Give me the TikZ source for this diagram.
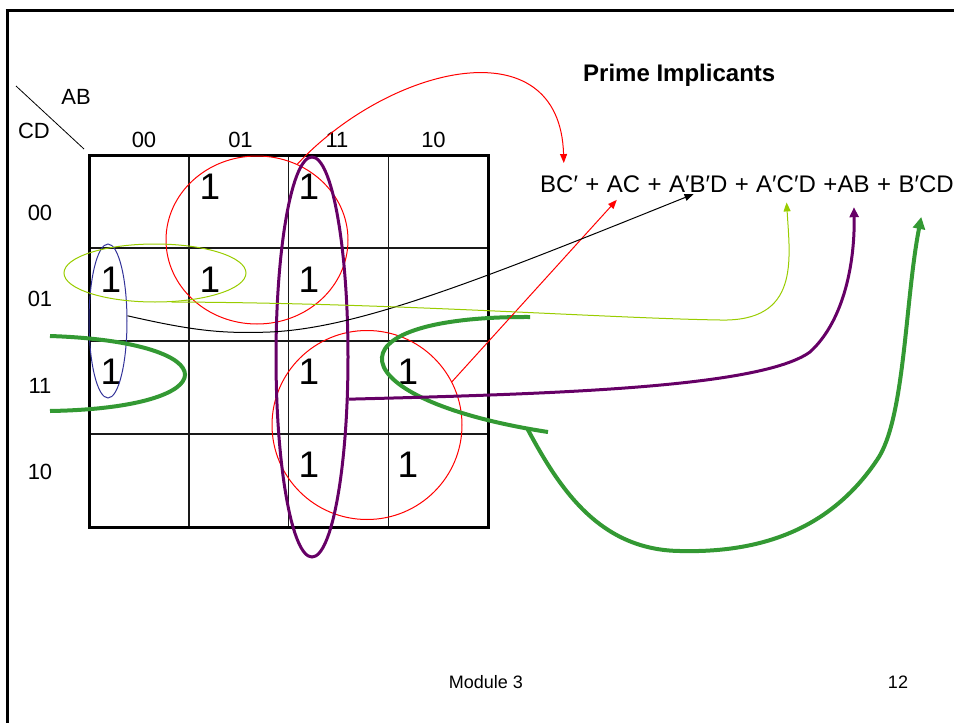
\documentclass[tikz,border=0pt]{standalone}
\usepackage{fontspec}
\setmainfont{Liberation Sans}
\usepackage{tikz}
\usetikzlibrary{shapes.geometric, arrows.meta, positioning}
\definecolor{rojo}{RGB}{255,0,0}
\definecolor{morado}{RGB}{102,0,102}
\definecolor{lima}{RGB}{153,204,0}
\definecolor{azul}{RGB}{51,51,153}
\definecolor{verde}{RGB}{51,153,51}
\tikzset{
  uno/.style={font=\fontsize{37}{40}\selectfont, inner sep=0pt},
  etiq/.style={font=\fontsize{22}{26}\selectfont, inner sep=0pt},
  termino/.style={font=\fontsize{24}{28}\selectfont, inner sep=0pt},
  pie/.style={font=\fontsize{18}{22}\selectfont, inner sep=0pt},
  linea/.style={line width=1.5pt, color=black!90},
  grupo/.style={ellipse, inner sep=0pt, line width=1pt},
  flecha/.style={-{Triangle[length=9pt, width=7pt]}, line width=1pt},
  trazo/.style={line width=4pt, color=verde}
}

\begin{document}
\begin{tikzpicture}[x=1pt, y=-1pt, node distance=7pt]
  \useasboundingbox (0,0) rectangle (954,723);
  \draw[line width=3pt] (5.5,10) -- (954,10);
  \draw[line width=3pt] (7,10) -- (7,723);

  \draw[line width=0.8pt] (16,86) -- (84,149);
  \node[etiq] (ab0) at (76,97) {AB};
  \node[etiq] (cd0) at (34,131) {CD};
  \foreach \v [count=\i from 0] in {00,01,11,10} {
    \node[etiq] (col\v) at ({144+96.5*\i},140) {\v};
    \node[etiq] (fila\v) at (40,{213+86.3*\i}) {\v};
  }
  \foreach \i in {1,2,3} {
    \draw[linea] ({89+99.75*\i},155) -- ({89+99.75*\i},527);
    \draw[linea] (89,{155+93*\i}) -- (488,{155+93*\i});
  }
  \draw[line width=3pt] (89,155) rectangle (488,527);
  \foreach \c/\f in {1/0,2/0,0/1,1/1,2/1,0/2,2/2,3/2,2/3,3/3}
    \node[uno] (u\c\f) at ({111+99*\c},{187+92.5*\f}) {1};

  \node[grupo, draw=rojo, minimum width=182pt, minimum height=168pt] (gBC) at (257,240) {};
  \node[grupo, draw=rojo, minimum width=190pt, minimum height=189pt] (gAC) at (367,425) {};
  \node[grupo, draw=azul, minimum width=38pt, minimum height=154pt] (gABD) at (108,321) {};
  \node[grupo, draw=lima, minimum width=182pt, minimum height=58pt] (gACD) at (155,273) {};
  \node[grupo, draw=morado, line width=3pt, minimum width=72pt, minimum height=400pt] (gAB) at (312,357) {};

  \draw[trazo] (50,336) .. controls (230,342) and (230,408) .. (50,411);
  \draw[trazo] (530,317) .. controls (320,316) and (340,400) .. (548,432);
  \coordinate (cBCD) at (527,428);

  \node[font=\bfseries\fontsize{24}{28}\selectfont, inner sep=0pt, anchor=base west] (titulo) at (583,81) {Prime Implicants};

  \node[termino, anchor=base west] (bc) at (540,192) {BC′};
  \node[termino, base right=of bc] (s1) {+};
  \node[termino, base right=of s1] (ac) {AC};
  \node[termino, base right=of ac] (s2) {+};
  \node[termino, base right=of s2] (abd) {A′B′D};
  \node[termino, base right=of abd] (s3) {+};
  \node[termino, base right=of s3] (acd) {A′C′D};
  \node[termino, base right=of acd] (s4) {+};
  \node[termino, base right=0pt of s4] (ab) {AB};
  \node[termino, base right=of ab] (s5) {+};
  \node[termino, base right=of s5] (bcd) {B′CD};

  \draw[flecha, rojo, shorten >=12pt] (gBC.62) .. controls (390,65) and (560,25) .. (bc.60);
  \draw[flecha, rojo, shorten >=10pt] (gAC.27) -- (ac.south);
  \draw[flecha, black, shorten >=5pt] (gABD.15) .. controls (190,330) and (220,334) .. (270,332)
    .. controls (360,328) and (480,280) .. (abd.south);
  \draw[flecha, lima, shorten >=10pt] (gACD.-60) .. controls (400,303) and (600,318) .. (720,320)
    .. controls (800,322) and (790,260) .. (acd.south);
  \draw[flecha, morado, line width=3pt, -{Triangle[length=10pt, width=9pt]}, shorten >=15pt]
    (gAB.-49) .. controls (550,394) and (760,388) .. (810,352)
    .. controls (845,320) and (855,260) .. (ab.south);
  \draw[trazo, -{Triangle[length=12pt, width=12pt]}, shorten >=25pt]
    (cBCD) .. controls (560,490) and (600,550) .. (680,551)
    .. controls (760,553) and (830,530) .. (877,460)
    .. controls (905,420) and (905,300) .. (bcd.south);

  \node[pie] (modulo) at (486,682) {Module 3};
  \node[pie] (pagina) at (898,682) {12};
\end{tikzpicture}
\end{document}
